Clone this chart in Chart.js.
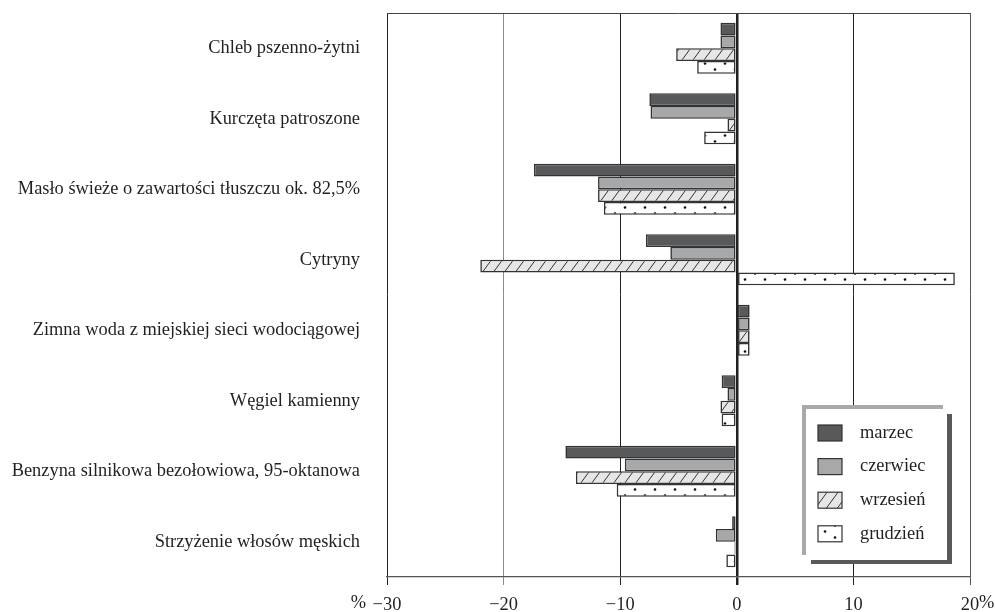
<!DOCTYPE html>
<html>
<head>
<meta charset="utf-8">
<script src="https://cdn.jsdelivr.net/npm/chart.js@4.4.1/dist/chart.umd.min.js"></script>
<style>
  html, body { margin: 0; padding: 0; background: #fff; }
  #wrap { width: 995px; height: 612px; }
</style>
</head>
<body>
<div id="wrap"><canvas id="chart" width="995" height="612"></canvas></div>
<script>
/* price changes by month — horizontal grouped bars */

const categories = [
  'Chleb pszenno-żytni',
  'Kurczęta patroszone',
  'Masło świeże o zawartości tłuszczu ok. 82,5%',
  'Cytryny',
  'Zimna woda z miejskiej sieci wodociągowej',
  'Węgiel kamienny',
  'Benzyna silnikowa bezołowiowa, 95-oktanowa',
  'Strzyżenie włosów męskich'
];

const seriesNames = ['marzec', 'czerwiec', 'wrzesień', 'grudzień'];

const marzec   = [-1.4, -7.5, -17.4, -7.8, 1.1, -1.3, -14.7, -0.4];
const czerwiec = [-1.4, -7.4, -11.9, -5.7, 1.1, -0.8,  -9.6, -1.8];
const wrzesien = [-5.2, -0.8, -11.9, -22.0, 1.1, -1.4, -13.8, -0.2];
const grudzien = [-3.4, -2.8, -11.4, 18.7, 1.1, -1.3, -10.3, -0.9];

const xMin = -30, xMax = 20, xStep = 10;

const SERIF = '"Liberation Serif", "DejaVu Serif", serif';
const FS    = 18.4;
const INK   = '#231f20';

/* ── fill patterns ── */
function hatchPattern() {
  const w = 11, h = 15;
  const c = document.createElement('canvas');
  c.width = w; c.height = h;
  const g = c.getContext('2d');
  g.fillStyle = '#e6e6e6';
  g.fillRect(0, 0, w, h);
  g.strokeStyle = '#333';
  g.lineWidth = 1;
  g.beginPath();
  g.moveTo(0, h);  g.lineTo(w, 0);
  g.moveTo(-w, h); g.lineTo(0, 0);
  g.moveTo(w, h);  g.lineTo(2 * w, 0);
  g.stroke();
  return g.createPattern(c, 'repeat');
}

function dotPattern() {
  const w = 20, h = 12;
  const c = document.createElement('canvas');
  c.width = w; c.height = h;
  const g = c.getContext('2d');
  g.fillStyle = '#fff';
  g.fillRect(0, 0, w, h);
  g.fillStyle = '#111';
  g.beginPath(); g.arc(5, 3.5, 1.3, 0, Math.PI * 2); g.fill();
  g.beginPath(); g.arc(15, 9.5, 1.3, 0, Math.PI * 2); g.fill();
  return g.createPattern(c, 'repeat');
}

const fills = ['#58595b', '#a7a8aa', hatchPattern(), dotPattern()];

const TICK_LEN = 8, TICK_PAD = 9;

/* ── frame top line + % signs beside outer tick labels ── */
const framePlugin = {
  id: 'frame',
  afterDraw(chart) {
    const { ctx, chartArea: a, scales } = chart;
    ctx.save();
    ctx.strokeStyle = '#444';
    ctx.lineWidth = 1;
    ctx.beginPath();
    ctx.moveTo(a.left, a.top + 0.5);
    ctx.lineTo(a.right, a.top + 0.5);
    ctx.stroke();

    ctx.fillStyle = INK;
    ctx.font = FS + 'px ' + SERIF;
    ctx.textBaseline = 'top';
    const y = a.bottom + TICK_LEN + TICK_PAD;
    const xl = scales.x.getPixelForValue(xMin);
    ctx.textAlign = 'right';
    ctx.fillText('%', xl - 21, y);
    const xr = scales.x.getPixelForValue(xMax);
    ctx.textAlign = 'left';
    ctx.fillText('%', xr + 9, y);
    ctx.restore();
  }
};

/* ── legend box in the lower right of the plot ── */
const boxLegend = {
  id: 'boxLegend',
  afterDraw(chart) {
    const { ctx } = chart;
    const L = 802, T = 405, R = 952, B = 564;
    ctx.save();
    ctx.fillStyle = '#fff';
    ctx.fillRect(L, T, R - L, B - T);
    // light frame top / left
    ctx.fillStyle = '#a8a9ab';
    ctx.fillRect(L, T, 141, 4);
    ctx.fillRect(L, T, 4, 150);
    // dark shadow right / bottom
    ctx.fillStyle = '#58595b';
    ctx.fillRect(R - 5, T + 9, 5, B - T - 9);
    ctx.fillRect(L + 9, B - 4, R - L - 9, 4);

    chart.data.datasets.forEach((ds, i) => {
      const cy = 433 + i * 33.6;
      ctx.fillStyle = ds.backgroundColor;
      ctx.fillRect(818, cy - 8, 24, 16);
      ctx.strokeStyle = '#333';
      ctx.lineWidth = 1.2;
      ctx.strokeRect(818, cy - 8, 24, 16);
      ctx.fillStyle = INK;
      ctx.font = FS + 'px ' + SERIF;
      ctx.textAlign = 'left';
      ctx.textBaseline = 'middle';
      ctx.fillText(ds.label, 860, cy);
    });
    ctx.restore();
  }
};

const seriesData = [marzec, czerwiec, wrzesien, grudzien];

new Chart(document.getElementById('chart'), {
  type: 'bar',
  data: {
    labels: categories,
    datasets: seriesNames.map((name, i) => ({
      label: name,
      data: seriesData[i],
      backgroundColor: fills[i],
      borderColor: '#333',
      borderWidth: 1.6,
      borderSkipped: false,
      categoryPercentage: 0.723,
      barPercentage: 1
    }))
  },
  options: {
    indexAxis: 'y',
    responsive: false,
    animation: false,
    layout: { padding: { top: 13, right: 25, left: 0, bottom: 0 } },
    plugins: {
      legend: { display: false },
      tooltip: { enabled: false }
    },
    scales: {
      x: {
        min: xMin, max: xMax,
        ticks: {
          stepSize: xStep,
          color: INK,
          font: { family: SERIF, size: FS },
          padding: TICK_PAD,
          maxRotation: 0,
          callback: v => (v < 0 ? '\u2212' + Math.abs(v) : String(v))
        },
        grid: {
          color: c => {
            const v = c.tick && c.tick.value;
            if (v === -20) return '#8a8a8a';
            if (v === 20) return '#555';
            return '#222';
          },
          lineWidth: c => (c.tick && c.tick.value === 0 ? 2.5 : 1),
          tickLength: TICK_LEN
        },
        border: { display: true, color: '#555', width: 1.2 },
        afterFit: s => { s.height = 35; s.paddingLeft = 0; s.paddingRight = 0; }
      },
      y: {
        ticks: {
          color: INK,
          font: { family: SERIF, size: FS },
          padding: 27,
          autoSkip: false
        },
        grid: { display: false, drawTicks: false },
        border: { display: false },
        afterFit: s => { s.width = 387; s.paddingTop = 0; s.paddingBottom = 0; }
      }
    }
  },
  plugins: [framePlugin, boxLegend]
});
</script>
</body>
</html>
